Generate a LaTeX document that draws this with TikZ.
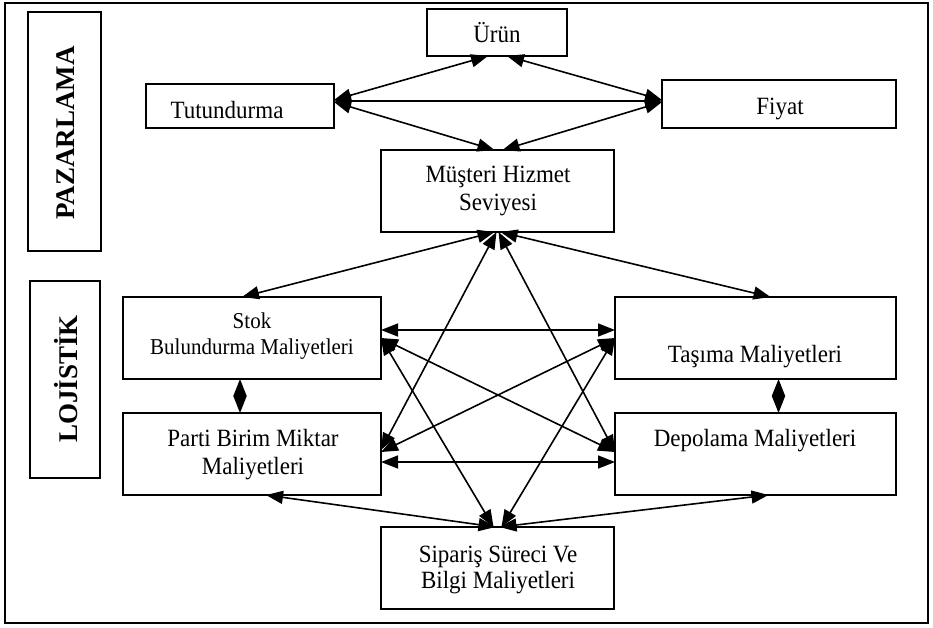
\documentclass[tikz,border=0pt]{standalone}
\usepackage{fontspec}
\setmainfont{Liberation Serif}
\usetikzlibrary{arrows.meta}
\begin{document}
\begin{tikzpicture}[x=1pt,y=-1pt,
  box/.style={draw, line width=2pt, inner sep=0pt, outer sep=0pt},
  txt/.style={inner sep=0pt, anchor=base, font=\fontsize{23}{28}\selectfont},
  stxt/.style={txt, font=\fontsize{21}{26}\selectfont},
  side/.style={inner sep=0pt, anchor=base, rotate=90, font=\fontsize{27}{32}\selectfont\bfseries},
  tipshape/.tip={Triangle[length=17pt 0 0,width=13pt 0 0]},
  link/.style={line width=1.6pt, tipshape-tipshape},
]
\newcommand{\tall}[1]{\scalebox{1}[1.08]{#1}}
\useasboundingbox (0,0) rectangle (933,627);
\node[box, minimum width=923pt, minimum height=620pt] (frame) at (466.5,313) {};
\node[box, minimum width=73pt, minimum height=239pt] (paz) at (64.5,131.5) {};
\node[box, minimum width=70pt, minimum height=197pt] (loj) at (65,379.5) {};
\node[box, minimum width=140pt, minimum height=47pt] (U) at (497,32.5) {};
\node[box, minimum width=188pt, minimum height=44pt] (T) at (240,106) {};
\node[box, minimum width=234pt, minimum height=48pt] (F) at (779,104) {};
\node[box, minimum width=233pt, minimum height=82pt] (M) at (497.5,191) {};
\node[box, minimum width=258pt, minimum height=82pt] (S) at (252,338) {};
\node[box, minimum width=281pt, minimum height=82pt] (Ta) at (755.5,338) {};
\node[box, minimum width=258pt, minimum height=82pt] (P) at (252,454) {};
\node[box, minimum width=281pt, minimum height=82pt] (D) at (755.5,454) {};
\node[box, minimum width=233pt, minimum height=82pt] (Si) at (497.5,568) {};

\node[txt] (tU) at (497,42) {\tall{Ürün}};
\node[txt] (tT) at (227,118) {\tall{Tutundurma}};
\node[txt] (tF) at (780,114) {\tall{Fiyat}};
\node[txt] (tM1) at (498,182) {\tall{Müşteri Hizmet}};
\node[txt] (tM2) at (498,210) {\tall{Seviyesi}};
\node[stxt] (tS1) at (252,328) {\tall{Stok}};
\node[stxt] (tS2) at (252,354) {\tall{Bulundurma Maliyetleri}};
\node[txt] (tTa) at (755,362) {\tall{Taşıma Maliyetleri}};
\node[txt] (tP1) at (253,446) {\tall{Parti Birim Miktar}};
\node[txt] (tP2) at (253,474) {\tall{Maliyetleri}};
\node[txt] (tD) at (755,446) {\tall{Depolama Maliyetleri}};
\node[txt] (tSi1) at (498,562) {\tall{Sipariş Süreci Ve}};
\node[txt] (tSi2) at (498,588) {\tall{Bilgi Maliyetleri}};
\node[side] (tPaz) at (74,133) {PAZARLAMA};
\node[side] (tLoj) at (77,379) {LOJİSTİK};

\draw[link] ([xshift=-9pt]U.south) -- ([yshift=6pt]T.east);
\draw[link] ([xshift=10pt]U.south) -- ([yshift=4pt]F.west);
\draw[link] ([yshift=5pt]T.east) -- ([yshift=3pt]F.west);
\draw[link] ([yshift=4pt]T.east) -- ([xshift=-3pt]M.north);
\draw[link] ([yshift=2pt]F.west) -- ([xshift=5pt]M.north);

\draw[link] ([xshift=-3pt]M.south) -- ([xshift=-10pt]S.north);
\draw[link] ([xshift=3pt]M.south) -- ([xshift=15pt]Ta.north);
\draw[link] ([xshift=-1pt]M.south) -- ([yshift=4pt]P.east);
\draw[link] ([xshift=1pt]M.south) -- ([yshift=2pt]D.west);

\draw[link] ([yshift=8pt]S.east) -- ([yshift=8pt]Ta.west);
\draw[link] (S.east) -- ([yshift=2pt]D.west);
\draw[link] (S.east) -- ([xshift=-4pt]Si.north);
\draw[link] (Ta.west) -- ([yshift=2pt]P.east);
\draw[link] (Ta.west) -- ([xshift=4pt]Si.north);
\draw[link] ([yshift=-8pt]P.east) -- ([yshift=-8pt]D.west);

\draw[link] ([xshift=14pt]P.south) -- ([xshift=-2pt]Si.north);
\draw[link] ([xshift=13pt]D.south) -- ([xshift=2pt]Si.north);

\draw[link] ([xshift=-12pt]S.south) -- ([xshift=-12pt]P.north);
\draw[link] ([xshift=23pt]Ta.south) -- ([xshift=23pt]D.north);
\end{tikzpicture}
\end{document}
